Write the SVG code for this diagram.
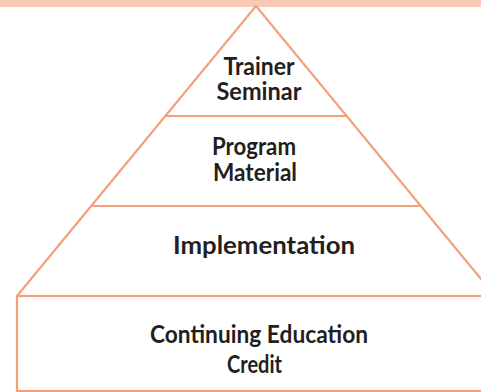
<svg xmlns="http://www.w3.org/2000/svg" width="481" height="392" viewBox="0 0 481 392">
<style>
.ln{fill:none;stroke:#F5A07D;stroke-width:2.2;stroke-linejoin:miter}
.t{font-family:Lato,"Open Sans","Liberation Sans",sans-serif;font-weight:bold;font-size:25px;fill:#231F20;text-anchor:middle}
</style>
<rect x="0" y="0" width="481" height="7" fill="#FBCAB5"/>
<g id="connectors">
<path class="ln" d="M17,296 L256,6 L495,296"/>
<line class="ln" x1="165.3" y1="116" x2="346.7" y2="116"/>
<line class="ln" x1="91.2" y1="206" x2="420.8" y2="206"/>
</g>
<g id="trainer-seminar">
<text class="t" x="259" y="75" textLength="71" lengthAdjust="spacingAndGlyphs">Trainer</text>
<text class="t" x="259" y="100" textLength="85" lengthAdjust="spacingAndGlyphs">Seminar</text>
</g>
<g id="program-material">
<text class="t" x="254" y="155" textLength="84" lengthAdjust="spacingAndGlyphs">Program</text>
<text class="t" x="255" y="180.5" textLength="84" lengthAdjust="spacingAndGlyphs">Material</text>
</g>
<g id="implementation">
<text class="t" x="264" y="254" textLength="182" lengthAdjust="spacingAndGlyphs">Implementation</text>
</g>
<g id="continuing-education-credit">
<rect class="ln" x="17" y="296" width="480" height="95"/>
<text class="t" x="259" y="343" textLength="218" lengthAdjust="spacingAndGlyphs">Continuing Education</text>
<text class="t" x="254.5" y="373" textLength="55" lengthAdjust="spacingAndGlyphs">Credit</text>
</g>
</svg>
